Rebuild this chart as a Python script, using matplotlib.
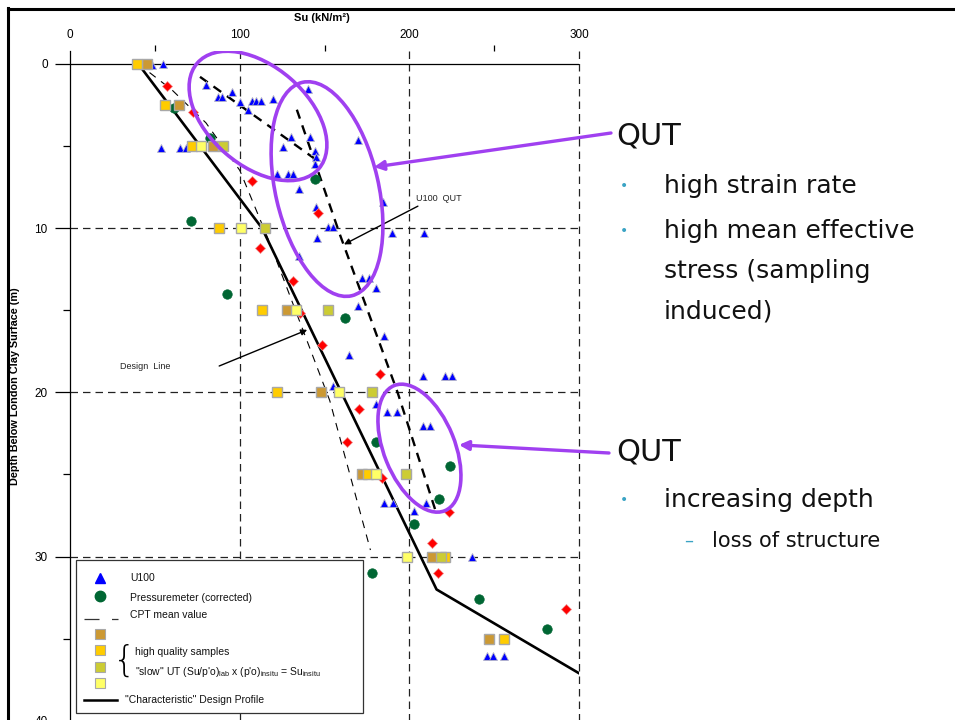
import matplotlib
matplotlib.use("Agg")
import matplotlib.pyplot as plt
import matplotlib.transforms as mtransforms
from matplotlib.patches import Ellipse, Rectangle
from matplotlib.lines import Line2D

plt.rcParams['font.family'] = ['Liberation Sans', 'DejaVu Sans']
plt.rcParams['mathtext.fontset'] = 'custom'
plt.rcParams['mathtext.rm'] = 'Liberation Sans'

# ---- data: undrained shear strength Su (kN/m2) against depth (m) ----
u100_su = [48.2, 54.7, 80.0, 87.2, 89.4, 95.3, 100.0, 105.0, 107.0, 109.5, 112.4, 119.6, 140.3,
           53.5, 64.6, 68.1, 130.0, 125.4, 141.3, 169.6, 144.3, 145.0, 144.3,
           121.9, 128.4, 131.4, 134.9, 144.9, 184.3, 152.0, 155.0, 145.4, 189.6, 208.5,
           134.9, 172.0, 176.3, 180.3, 169.6, 185.0, 164.4, 207.9, 220.9, 225.0, 155.0,
           180.3, 186.7, 192.6, 208.0, 212.0, 185.0, 190.3, 209.7, 202.6, 237.0,
           245.7, 249.4, 255.7]
u100_depth = [0.1, 0.0, 1.3, 2.0, 2.0, 1.7, 2.35, 2.8, 2.3, 2.3, 2.3, 2.15, 1.55,
              5.15, 5.15, 5.15, 4.45, 5.1, 4.45, 4.65, 5.3, 5.7, 6.1,
              6.7, 6.7, 6.7, 7.6, 8.75, 8.4, 9.95, 9.95, 10.6, 10.3, 10.3,
              11.7, 13.05, 13.05, 13.65, 14.75, 16.6, 17.75, 19.0, 19.0, 19.0, 19.6,
              20.7, 21.2, 21.2, 22.05, 22.05, 26.75, 26.75, 26.75, 27.2, 30.05,
              36.05, 36.05, 36.05]

press_su = [61.0, 82.4, 71.1, 92.4, 144.3, 162.0, 180.3, 223.9, 217.4, 202.6, 177.9, 241.0, 281.0]
press_depth = [2.7, 4.5, 9.6, 14.0, 7.0, 15.5, 23.0, 24.5, 26.5, 28.0, 31.0, 32.6, 34.4]

other_su = [57.1, 72.5, 107.1, 146.0, 112.0, 131.4, 135.4, 148.6, 182.6, 170.2, 163.0, 183.8,
            223.3, 213.3, 216.8, 292.3]
other_depth = [1.36, 2.94, 7.15, 9.1, 11.2, 13.2, 15.2, 17.1, 18.9, 21.0, 23.0, 25.2,
               27.3, 29.2, 31.0, 33.2]

tan_su = [45.4, 64.1, 84.2, 127.8, 147.9, 172.0, 213.3, 246.9]
tan_depth = [0, 2.5, 5, 15, 20, 25, 30, 35]
gold_su = [39.3, 55.9, 71.8, 87.7, 113.0, 121.9, 175.5, 220.9, 255.7]
gold_depth = [0, 2.5, 5, 10, 15, 20, 25, 30, 35]
olive_su = [90.0, 114.8, 151.9, 177.9, 197.9, 218.6]
olive_depth = [5, 10, 15, 20, 25, 30]
pale_su = [77.2, 100.7, 133.1, 158.4, 180.3, 198.5]
pale_depth = [5, 10, 15, 20, 25, 30]

design_su = [40, 113, 216, 300]
design_depth = [0, 10, 32, 37.1]
cpt_su = [40, 60, 80, 100, 118, 153, 177]
cpt_depth = [0, 1.6, 3.6, 6.5, 11, 20.5, 29.6]
qut_upper_su = [76.5, 143]
qut_upper_depth = [0.8, 5.7]
qut_main_su = [133.6, 159, 193, 216]
qut_main_depth = [2.8, 10.4, 20, 27.4]

# highlighted zones: centre (Su, depth), size in inches, angle
zone_su = [110.7, 151.4, 205.9]
zone_depth = [3.18, 7.63, 23.4]
zone_w = [1.61, 2.19, 1.35]
zone_h = [0.99, 1.03, 0.71]
zone_angle = [-41, -77, -68]

purple = '#A040F0'
teal = '#3AA3C4'
W, H = 955, 720

fig = plt.figure(figsize=(9.55, 7.2), dpi=100)
ax = fig.add_axes([0.07361, -0.00125, 0.53267, 0.93103])

# grid
for v in [100, 200, 300]:
    ax.axvline(v, color='#222222', lw=0.9, ls=(0, (6, 4)), zorder=1, clip_on=False)
for d in [10, 20, 30]:
    ax.axhline(d, color='#222222', lw=0.9, ls=(0, (6, 4)), zorder=1)
ax.axhline(0, color='black', lw=0.9, zorder=1)

# lines
ax.plot(cpt_su, cpt_depth, color='black', lw=0.8, ls=(0, (7, 6)), zorder=2)
ax.plot(design_su, design_depth, color='black', lw=1.9, zorder=2)
ax.plot(qut_upper_su, qut_upper_depth, color='black', lw=1.7, ls=(0, (4, 3)), zorder=2)
ax.plot(qut_main_su, qut_main_depth, color='black', lw=1.7, ls=(0, (4, 3)), zorder=2)

# markers
ax.plot(u100_su, u100_depth, ls='none', marker='^', ms=6, mfc='#0000FF', mec='#B8B8C8', mew=0.6, zorder=3)
ax.plot(other_su, other_depth, ls='none', marker='D', ms=4.6, mfc='#FF0000', mec='#F09090', mew=0.5, zorder=3)
ax.plot(press_su, press_depth, ls='none', marker='o', ms=6.8, mfc='#006633', mec='#006633', mew=0.5, zorder=3)
for su, dep, c in [(tan_su, tan_depth, '#CC9933'), (gold_su, gold_depth, '#FFCC00'),
                   (olive_su, olive_depth, '#CCCC33'), (pale_su, pale_depth, '#FFFF66')]:
    ax.plot(su, dep, ls='none', marker='s', ms=7.2, mfc=c, mec='#A8A8A8', mew=1.0, zorder=4)

# ellipses
for su, dep, w, h, ang in zip(zone_su, zone_depth, zone_w, zone_h, zone_angle):
    tr = fig.dpi_scale_trans + mtransforms.ScaledTranslation(su, dep, ax.transData)
    ax.add_patch(Ellipse((0, 0), w, h, angle=ang, transform=tr, fill=False,
                         edgecolor=purple, lw=2.6, zorder=8))

# axes styling
ax.set_xlim(0, 300)
ax.set_ylim(40, -0.8)
for s in ['top', 'right', 'bottom']:
    ax.spines[s].set_visible(False)
ax.spines['left'].set_linewidth(0.9)
ax.xaxis.tick_top()
ax.set_xticks([0, 100, 200, 300])
ax.set_xticks([50, 150, 250], minor=True)
ax.set_yticks([0, 10, 20, 30, 40])
ax.set_yticks([5, 15, 25, 35], minor=True)
ax.tick_params(axis='x', which='major', length=0, pad=7, labelsize=8.5)
ax.tick_params(axis='x', which='minor', length=4.5, width=0.9, direction='out')
ax.tick_params(axis='y', which='major', length=10.8, width=0.9, pad=5.5, labelsize=8.5)
ax.tick_params(axis='y', which='minor', length=5, width=0.9)

ax.set_xlabel('Su (kN/m²)', fontsize=8, fontweight='bold')
ax.xaxis.set_label_position('top')
ax.xaxis.set_label_coords(0.495, 1.0486)
ax.xaxis.label.set_va('center')
ax.set_ylabel('Depth Below London Clay Surface (m)', fontsize=7.8, fontweight='bold')
ax.yaxis.set_label_coords(-0.1087, 0.5)
ax.yaxis.label.set_va('center')

# in-plot annotations
ax.annotate('', xy=(139.7, 16.2), xytext=(87.8, 18.4),
            arrowprops=dict(arrowstyle='-|>', color='black', lw=1.0, mutation_scale=9, shrinkA=0, shrinkB=0), zorder=6)
ax.text(29.5, 18.46, 'Design  Line', fontsize=6.5, ha='left', va='center', color='#222222')
ax.annotate('', xy=(161.4, 11.0), xytext=(205.0, 8.67),
            arrowprops=dict(arrowstyle='-|>', color='black', lw=1.0, mutation_scale=9, shrinkA=0, shrinkB=0), zorder=6)
ax.text(203.8, 8.2, 'U100  QUT', fontsize=6.5, ha='left', va='center', color='#222222')

# purple arrows to the notes
ax.annotate('', xy=(179.1, 6.29), xytext=(611 / W, 1 - 133 / H), textcoords='figure fraction',
            arrowprops=dict(arrowstyle='-|>', color=purple, lw=2.4, mutation_scale=14, shrinkA=0, shrinkB=0),
            annotation_clip=False, zorder=9)
ax.annotate('', xy=(229.2, 23.2), xytext=(609 / W, 1 - 453 / H), textcoords='figure fraction',
            arrowprops=dict(arrowstyle='-|>', color=purple, lw=2.4, mutation_scale=14, shrinkA=0, shrinkB=0),
            annotation_clip=False, zorder=9)

# legend box
ax.add_patch(Rectangle((3.4, 30.2), 169.2, 9.3, facecolor='white', edgecolor='#333333', lw=0.9, zorder=5))
lk = dict(fontsize=7.5, ha='left', va='center', zorder=6, color='#111111')
ax.plot([17.5], [31.3], marker='^', ms=7.5, mfc='#0000FF', mec='#0000FF', zorder=6)
ax.text(35.2, 31.3, 'U100', **lk)
ax.plot([17.5], [32.4], marker='o', ms=7.5, mfc='#006633', mec='#006633', zorder=6)
ax.text(35.2, 32.5, 'Pressuremeter (corrected)', **lk)
ax.plot([8.1, 28.0], [33.8, 33.8], color='#333333', lw=0.9, ls=(0, (12, 10)), zorder=6)
ax.text(35.2, 33.55, 'CPT mean value', **lk)
for dep, c in zip([34.7, 35.7, 36.7, 37.7], ['#CC9933', '#FFCC00', '#CCCC33', '#FFFF66']):
    ax.plot([17.5], [dep], marker='s', ms=6.5, mfc=c, mec='#A8A8A8', mew=0.8, zorder=6)
ax.text(32.0, 36.35, '{', fontsize=26, ha='center', va='center', zorder=6, family='DejaVu Sans',
        fontweight='light')
ax.text(38.2, 35.8, 'high quality samples', **lk)
ax.text(38.2, 37.0, "\"slow\" UT (Su/p'o)$_{\\rm lab}$ x (p'o)$_{\\rm insitu}$ = Su$_{\\rm insitu}$", **lk)
ax.plot([8.1, 27.6], [38.7, 38.7], color='black', lw=1.8, zorder=6)
ax.text(32.4, 38.7, '"Characteristic" Design Profile', **lk)

# slide notes on the right
nk = dict(family='DejaVu Sans', color='#111111', va='center', ha='left')
bk = dict(family='DejaVu Sans', color=teal, va='center', ha='center', fontsize=10)
fig.text(616 / W, 1 - 136 / H, 'QUT', fontsize=22, **nk)
fig.text(624 / W, 1 - 186 / H, '•', **bk)
fig.text(664 / W, 1 - 186 / H, 'high strain rate', fontsize=18, **nk)
fig.text(624 / W, 1 - 231 / H, '•', **bk)
fig.text(664 / W, 1 - 231 / H, 'high mean effective', fontsize=18, **nk)
fig.text(664 / W, 1 - 271 / H, 'stress (sampling', fontsize=18, **nk)
fig.text(664 / W, 1 - 311 / H, 'induced)', fontsize=18, **nk)
fig.text(616 / W, 1 - 452 / H, 'QUT', fontsize=22, **nk)
fig.text(624 / W, 1 - 500 / H, '•', **bk)
fig.text(664 / W, 1 - 500 / H, 'increasing depth', fontsize=18, **nk)
fig.text(689 / W, 1 - 541 / H, '–', family='DejaVu Sans', color=teal, va='center', ha='center', fontsize=13)
fig.text(712 / W, 1 - 541 / H, 'loss of structure', fontsize=15, **nk)

# picture frame
fig.add_artist(Line2D([8 / W, 8 / W], [0, 1 - 8 / H], color='black', lw=2.2))
fig.add_artist(Line2D([8 / W, 1], [1 - 9 / H, 1 - 9 / H], color='black', lw=2.2))

fig.savefig('out.png', dpi=100)
